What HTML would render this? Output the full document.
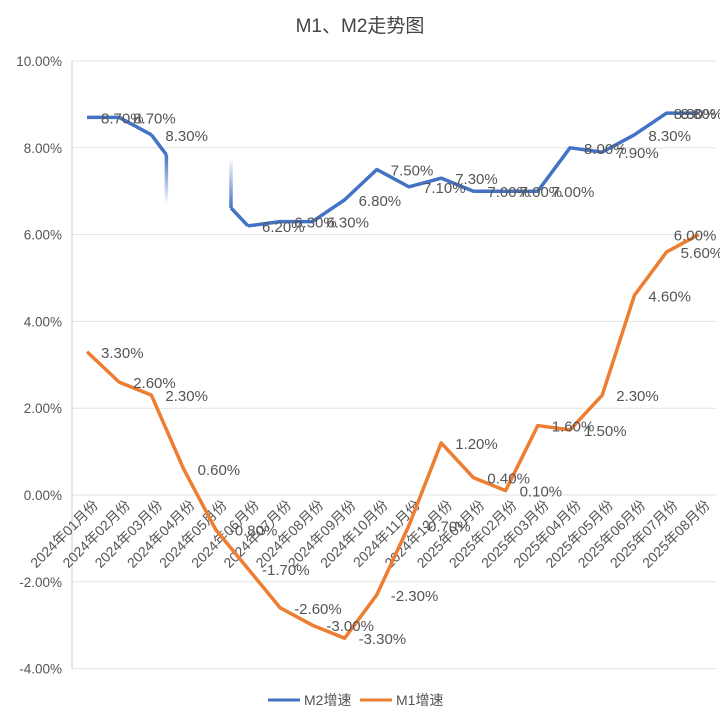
<!DOCTYPE html>
<html><head><meta charset="utf-8"><style>
body{margin:0;background:#fff;}
svg{display:block;font-family:"Liberation Sans","Noto Sans CJK SC",sans-serif;}
</style></head><body>
<svg id="chart" width="720" height="717" viewBox="0 0 720 717">
<defs>
<linearGradient id="fadeDown" x1="0" y1="0" x2="0" y2="1"><stop offset="0" stop-color="#4472C4" stop-opacity="1"/><stop offset="1" stop-color="#4472C4" stop-opacity="0"/></linearGradient>
<linearGradient id="fadeUp" x1="0" y1="1" x2="0" y2="0"><stop offset="0" stop-color="#4472C4" stop-opacity="1"/><stop offset="1" stop-color="#4472C4" stop-opacity="0"/></linearGradient>
</defs>
<text x="360" y="32" text-anchor="middle" font-size="19" fill="#444">M1、M2走势图</text>
<g id="grid"></g><g id="xlabels"></g><g id="series"></g><g id="labels"></g>
<g>
<line x1="268" y1="700" x2="300" y2="700" stroke="#4472C4" stroke-width="3"/>
<text x="304" y="705" font-size="14" fill="#555">M2增速</text>
<line x1="360" y1="700" x2="392" y2="700" stroke="#ED7D31" stroke-width="3"/>
<text x="396" y="705" font-size="14" fill="#555">M1增速</text>
</g>
</svg>
<script>
const categories=["2024年01月份","2024年02月份","2024年03月份","2024年04月份","2024年05月份","2024年06月份","2024年07月份","2024年08月份","2024年09月份","2024年10月份","2024年11月份","2024年12月份","2025年01月份","2025年02月份","2025年03月份","2025年04月份","2025年05月份","2025年06月份","2025年07月份","2025年08月份"];
const m2Values=[8.7,8.7,8.3,null,null,6.2,6.3,6.3,6.8,7.5,7.1,7.3,7.0,7.0,7.0,8.0,7.9,8.3,8.8,8.8];
const m1Values=[3.3,2.6,2.3,0.6,-0.8,-1.7,-2.6,-3.0,-3.3,-2.3,-0.7,1.2,0.4,0.1,1.6,1.5,2.3,4.6,5.6,6.0];
const yTicks=[10,8,6,4,2,0,-2,-4];
const yTickLabels=["10.00%","8.00%","6.00%","4.00%","2.00%","0.00%","-2.00%","-4.00%"];
const NS="http://www.w3.org/2000/svg";
const X0=87,STEP=32.2,L=72,R=716;
function xs(i){return X0+i*STEP;}
function ys(v){return 495-v*43.4;}
function mk(t,a,p){const e=document.createElementNS(NS,t);for(const k in a)e.setAttribute(k,a[k]);(p||document.getElementById('chart')).appendChild(e);return e;}
const grid=document.getElementById('grid');
yTicks.forEach((t,i)=>{
 const g=mk('line',{x1:L,x2:R,y1:ys(t),y2:ys(t),stroke:'#e3e3e3','stroke-width':1},grid);
 
 
 const tx=mk('text',{x:62,y:ys(t)+5,'text-anchor':'end','font-size':13.5,fill:'#555'},grid);
 tx.textContent=yTickLabels[i];
 
 
});
const ax=mk('line',{x1:L,x2:L,y1:ys(10),y2:ys(-4),stroke:'#cfcfcf','stroke-width':1},grid);


const xl=document.getElementById('xlabels');
categories.forEach((c,i)=>{
 const x=xs(i)+12,y=506;
 const t=mk('text',{x:x,y:y,'text-anchor':'end','font-size':14,fill:'#555',transform:`rotate(-45 ${x} ${y})`},xl);
 t.textContent=c;
 
 
});
const ser=document.getElementById('series');
function path(vals,color,name){
 let d='',pen=false;
 vals.forEach((v,i)=>{if(v==null){pen=false;return;}d+=(pen?'L':'M')+xs(i)+' '+ys(v)+' ';pen=true;});
 const p=mk('path',{d:d,fill:'none',stroke:color,'stroke-width':3.5,'stroke-linejoin':'round'},ser);
 
 
}
path(m2Values,'#4472C4','m2-line');
path(m1Values,'#ED7D31','m1-line');
m2Values.forEach((v,i)=>{
 if(v==null)return;
 if(i+1<m2Values.length&&m2Values[i+1]==null){
  const x=xs(i)+15,y=ys(v)+20;
  const s=mk('path',{d:`M${xs(i)} ${ys(v)} L${x} ${y}`,fill:'none',stroke:'#4472C4','stroke-width':3.5},ser);
  
  
  const r=mk('rect',{x:x-1.75,y:y,width:3.5,height:50,fill:'url(#fadeDown)'},ser);
  
  
 }
 if(i>0&&m2Values[i-1]==null){
  const x=xs(i)-17,y=ys(v)-18;
  const s=mk('path',{d:`M${x} ${y} L${xs(i)} ${ys(v)}`,fill:'none',stroke:'#4472C4','stroke-width':3.5},ser);
  
  
  const r=mk('rect',{x:x-1.75,y:y-50,width:3.5,height:50,fill:'url(#fadeUp)'},ser);
  
  
 }
});
const lab=document.getElementById('labels');
function labels(vals,name){
 vals.forEach((v,i)=>{
  if(v==null)return;
  const last=i===vals.length-1;
  const t=mk('text',{x:last?xs(i)-25:xs(i)+14,y:ys(v)+6,'font-size':15,fill:'#555'},lab);
  t.textContent=v.toFixed(2)+'%';
  
  
 });
}
labels(m2Values,'m2-data-label');
labels(m1Values,'m1-data-label');
</script>
</body></html>
